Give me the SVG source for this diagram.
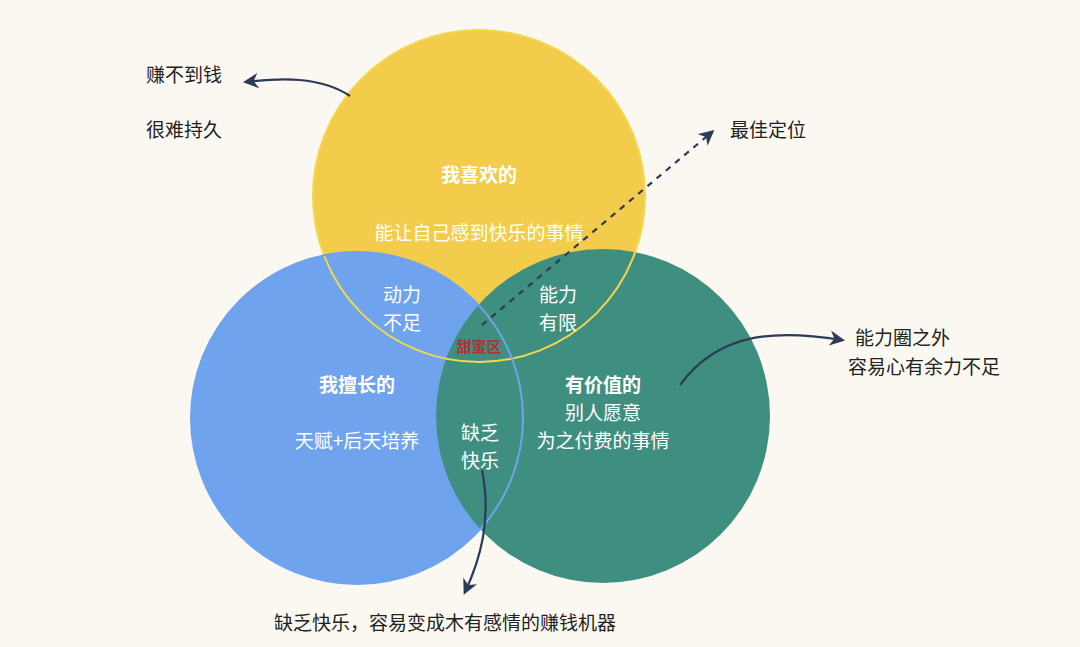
<svg xmlns="http://www.w3.org/2000/svg" width="1080" height="647" viewBox="0 0 1080 647">
<style>
.t{font-family:"Noto Sans CJK SC","Noto Sans",sans-serif;font-size:19px;fill:#fff;text-anchor:middle}
.b{font-weight:bold}
.k{font-family:"Noto Sans CJK SC","Noto Sans",sans-serif;font-size:19px;fill:#222}
.a{fill:none;stroke:#2c3b58;stroke-width:2.2}
</style>
<defs><marker id="m" viewBox="0 0 10 10" refX="8" refY="5" markerWidth="7" markerHeight="7" orient="auto"><path d="M0,0 L10,5 L0,10 L3,5Z" fill="#2c3b58"/></marker></defs>
<rect width="1080" height="647" fill="#fbf8f1"/>
<g id="yellow"><circle cx="479" cy="196" r="166" fill="#f2cc4a"/></g>
<g id="blue"><circle cx="357" cy="418" r="166" fill="#6fa3ee"/></g>
<g id="green"><circle cx="603" cy="416" r="167" fill="#3f8f80"/></g>
<circle cx="479" cy="196" r="166" fill="none" stroke="#f2d84a" stroke-width="2"/>
<circle cx="357" cy="418" r="166" fill="none" stroke="#6fa3ee" stroke-width="2"/>
<g id="labels">
<text class="t b" x="479" y="182">我喜欢的</text>
<text class="t" x="479" y="240">能让自己感到快乐的事情</text>
<text class="t" x="402" y="302">动力</text>
<text class="t" x="402" y="330">不足</text>
<text class="t" x="558" y="302">能力</text>
<text class="t" x="558" y="330">有限</text>
<text class="t" x="479" y="352" style="fill:#b0313a;font-size:15px;font-weight:bold">甜蜜区</text>
<text class="t b" x="357" y="392">我擅长的</text>
<text class="t" x="357" y="448">天赋+后天培养</text>
<text class="t" x="480" y="440">缺乏</text>
<text class="t" x="480" y="468">快乐</text>
<text class="t b" x="603" y="392">有价值的</text>
<text class="t" x="603" y="420">别人愿意</text>
<text class="t" x="603" y="448">为之付费的事情</text>
</g>
<g id="outside">
<text class="k" x="146" y="82">赚不到钱</text>
<text class="k" x="146" y="137">很难持久</text>
<text class="k" x="730" y="137">最佳定位</text>
<text class="k" x="855" y="345">能力圈之外</text>
<text class="k" x="848" y="374">容易心有余力不足</text>
<text class="k" x="274" y="630">缺乏快乐，容易变成木有感情的赚钱机器</text>
</g>
<g id="connectors">
<path class="a" d="M350,96 C320,76 280,78 246,82" marker-end="url(#m)"/>
<path class="a" d="M482,325 L712,132" stroke-dasharray="6,6" marker-end="url(#m)"/>
<path class="a" d="M680,385 C720,330 780,330 842,340" marker-end="url(#m)"/>
<path class="a" d="M482,470 C492,520 480,560 465,592" marker-end="url(#m)"/>
</g>
</svg>
